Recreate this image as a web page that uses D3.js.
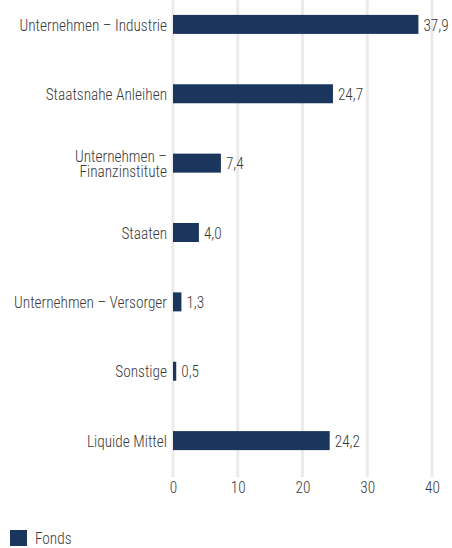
<!DOCTYPE html>
<html>
<head>
<meta charset="utf-8">
<script src="https://cdn.jsdelivr.net/npm/d3@7"></script>
<style>
  body { margin: 0; background: #fff; }
  text { font-family: Roboto, sans-serif; font-stretch: condensed; font-weight: 300; }
</style>
</head>
<body>
<div id="chart"></div>
<script>
// chart data
const categories = [
  "Unternehmen – Industrie",
  "Staatsnahe Anleihen",
  "Unternehmen – Finanzinstitute",
  "Staaten",
  "Unternehmen – Versorger",
  "Sonstige",
  "Liquide Mittel"
];
const fondsValues = [37.9, 24.7, 7.4, 4.0, 1.3, 0.5, 24.2];
const xTicks = [0, 10, 20, 30, 40];
const seriesName = "Fonds";

// label line breaks used in the picture
const labelLines = {
  "Unternehmen – Finanzinstitute": ["Unternehmen –", "Finanzinstitute"]
};

const w = 452, h = 548;
const margins = { top: 0, left: 173, right: 20 };
const barColor = "#1b365d";
const textColor = "#3a3a3a";
const fontSize = 17;
const squeeze = 0.9; // the original font is narrower than Roboto Condensed

const svg = d3.select("#chart")
  .append("svg")
    .attr("width", w)
    .attr("height", h);

const x = d3.scaleLinear()
  .domain([0, 40])
  .range([margins.left, 432]);

const y = d3.scaleBand()
  .domain(categories)
  .range([-8, 473])
  .paddingInner(0.726)
  .paddingOuter(0.33);

// gridlines
svg.append("g")
  .selectAll("line")
  .data(xTicks)
  .enter()
  .append("line")
    .attr("x1", d => x(d))
    .attr("x2", d => x(d))
    .attr("y1", 0)
    .attr("y2", 477)
    .attr("stroke", "#ebebeb")
    .attr("stroke-width", 3);

// x axis tick labels
const xAxis = svg.append("g")
  .attr("transform", "translate(0,479)")
  .call(d3.axisBottom(x).tickValues(xTicks).tickSize(0).tickPadding(2));
xAxis.select(".domain").remove();
xAxis.selectAll("text")
  .attr("font-size", fontSize)
  .attr("fill", textColor)
  .attr("font-family", null)
  .attr("transform", `scale(${squeeze},1)`);

// bars
const data = categories.map((c, i) => ({ cat: c, val: fondsValues[i] }));

svg.selectAll(".bar")
  .data(data)
  .enter()
  .append("rect")
    .attr("class", "bar")
    .attr("x", x(0))
    .attr("y", d => y(d.cat))
    .attr("width", d => x(d.val) - x(0))
    .attr("height", y.bandwidth())
    .attr("fill", barColor);

// value labels
svg.selectAll(".val")
  .data(data)
  .enter()
  .append("text")
    .attr("class", "val")
    .attr("transform", d => `translate(${x(d.val) + 5},${y(d.cat) + y.bandwidth() / 2}) scale(${squeeze},1)`)
    .attr("dy", "0.36em")
    .attr("font-size", fontSize)
    .attr("fill", textColor)
    .text(d => d3.format(".1f")(d.val).replace(".", ","));

// category labels
const catLabels = svg.selectAll(".cat")
  .data(data)
  .enter()
  .append("text")
    .attr("class", "cat")
    .attr("text-anchor", "end")
    .attr("font-size", fontSize)
    .attr("fill", textColor)
    .attr("transform", d => `translate(${x(0) - 6},${y(d.cat) + y.bandwidth() / 2}) scale(${squeeze},1)`);

catLabels.each(function(d) {
  const lines = labelLines[d.cat] || [d.cat];
  const t = d3.select(this);
  lines.forEach((l, i) => {
    t.append("tspan")
      .attr("x", 0)
      .attr("dy", i === 0 ? (0.36 - (lines.length - 1) * 0.45) + "em" : "0.9em")
      .text(l);
  });
});

// legend
const legend = svg.append("g").attr("transform", "translate(10,530)");
legend.append("rect")
  .attr("width", 17)
  .attr("height", 16)
  .attr("fill", barColor);
legend.append("text")
  .attr("transform", `translate(25,8) scale(${squeeze},1)`)
  .attr("dy", "0.36em")
  .attr("font-size", fontSize)
  .attr("fill", textColor)
  .text(seriesName);
</script>
</body>
</html>
